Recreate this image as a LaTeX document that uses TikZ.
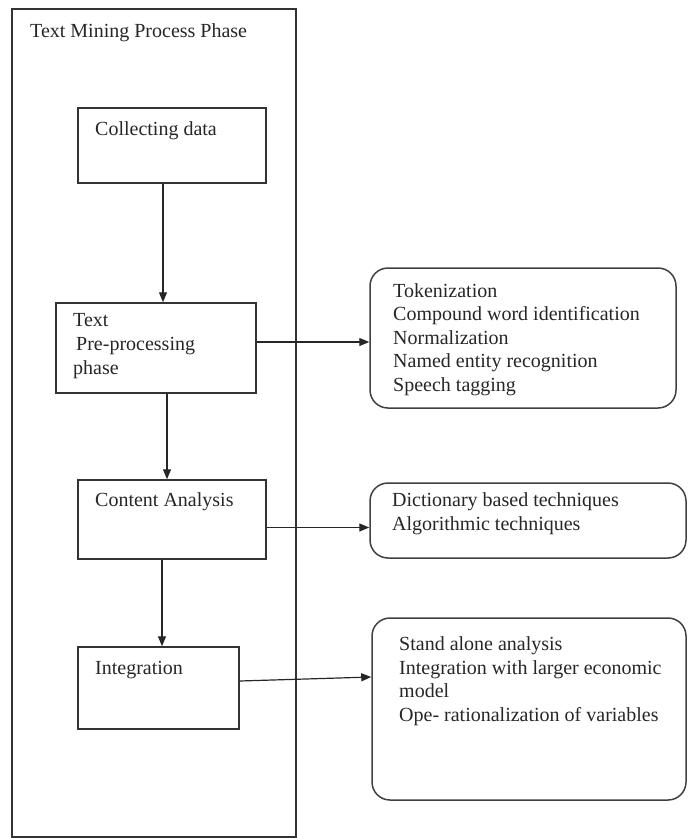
\documentclass[tikz,border=0pt]{standalone}
\usepackage{fontspec}
\setmainfont{Liberation Serif}
\usetikzlibrary{arrows.meta,positioning,calc}

\begin{document}
\begin{tikzpicture}[x=1pt,y=-1pt,>={Triangle[length=10pt,width=8pt]},font=\fontsize{20}{23.5}\selectfont,
 phase/.style={draw=black!80,line width=1.5pt,inner sep=0pt},
 techbox/.style={draw=black!75,line width=1.5pt,rounded corners=18pt,inner sep=0pt},
 lbl/.style={anchor=west,align=left,inner sep=0pt,text=black!85},
 arr/.style={->,line width=1.2pt,draw=black!85}]
\useasboundingbox (0,0) rectangle (688,838);
% outer frame
\node[phase,minimum width=284pt,minimum height=828pt] (frame) at (154,423) {};
\node[lbl] (title) at (30,33) {Text Mining Process Phase};
% phases
\node[phase,minimum width=188pt,minimum height=75pt] (collect) at (172,145.5) {};
\node[phase,minimum width=200pt,minimum height=90pt] (pre) at (156,348) {};
\node[phase,minimum width=188pt,minimum height=79pt] (content) at (172,519.5) {};
\node[phase,minimum width=161pt,minimum height=82pt] (integ) at (158.5,688) {};
\node[lbl] (collectt) at (95,131) {Collecting data};
\node[lbl] (pret) at (73,346) {Text\\[.5pt]\hspace{3pt}Pre-processing\\phase};
\node[lbl] (contentt) at (95,502) {Content Analysis};
\node[lbl] (integt) at (95,670) {Integration};
% techniques
\node[techbox,minimum width=306pt,minimum height=140pt] (tok) at (523,338) {};
\node[techbox,minimum width=316pt,minimum height=75pt] (dict) at (528,520.5) {};
\node[techbox,minimum width=314pt,minimum height=182pt] (stand) at (529,709) {};
\node[lbl] (tokt) at (393,339.5) {Tokenization\\Compound word identification\\Normalization\\Named entity recognition\\Speech tagging};
\node[lbl] (dictt) at (392,513.5) {Dictionary based techniques\\Algorithmic techniques};
\node[lbl] (standt) at (399,681) {Stand alone analysis\\Integration with larger economic\\model\\Ope- rationalization of variables};
% connectors
\draw[arr] ([xshift=-9pt]collect.south) -- ([xshift=-9pt]collect.south |- pre.north);
\draw[arr] ([xshift=11pt]pre.south) -- ([xshift=11pt]pre.south |- content.north);
\draw[arr] ([xshift=-10pt]content.south) -- ([xshift=-10pt]content.south |- integ.north);
\draw[arr] ([yshift=6pt]pre.east) -- ([yshift=6pt]pre.east -| tok.west);
\draw[arr] ([yshift=-8pt]content.east) -- ([yshift=-8pt]content.east -| dict.west);
\draw[arr] ([yshift=7pt]integ.east) -- ([yshift=11pt]integ.east -| stand.west);
\end{tikzpicture}
\end{document}
